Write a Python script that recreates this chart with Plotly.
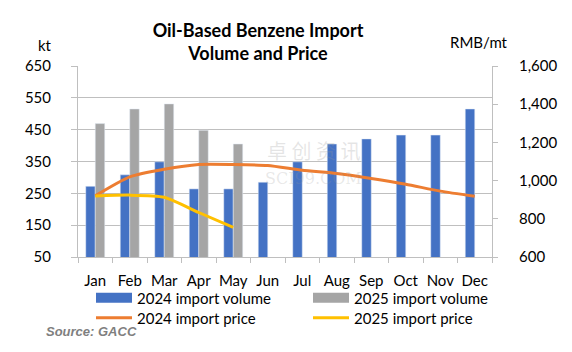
import plotly.graph_objects as go

months = ["Jan", "Feb", "Mar", "Apr", "May", "Jun", "Jul", "Aug", "Sep", "Oct", "Nov", "Dec"]
vol_2024 = [272, 308, 349, 264, 264, 285, 349, 405, 421, 433, 433, 515]
vol_2025 = [469, 515, 531, 448, 405, None, None, None, None, None, None, None]
price_2024 = [920, 1019, 1059, 1084, 1084, 1079, 1054, 1037, 1011, 981, 945, 918]
price_2025 = [920, 924, 913, 833, 755]

BLUE = "#4472C4"
GRAY = "#A5A5A5"
ORANGE = "#ED7D31"
YELLOW = "#FFC000"
FONT = "Lato"
W, H = 572, 352
L, R, T, B = 78, 80, 66, 95
PW, PH = W - L - R, H - T - B


def px(xpix):
    return (xpix - L) / PW


def py(ypix):
    return (H - B - ypix) / PH


fig = go.Figure()
fig.add_trace(go.Bar(x=months, y=vol_2024, marker_color=BLUE, showlegend=False, name="2024 import volume"))
fig.add_trace(go.Bar(x=months, y=vol_2025, marker_color=GRAY, showlegend=False, name="2025 import volume"))
fig.add_trace(go.Scatter(x=months, y=price_2024, yaxis="y2", mode="lines",
                         line=dict(color=ORANGE, width=3, shape="spline", smoothing=0.6),
                         showlegend=False, name="2024 import price"))
fig.add_trace(go.Scatter(x=months[:len(price_2025)], y=price_2025, yaxis="y2", mode="lines",
                         line=dict(color=YELLOW, width=3, shape="spline", smoothing=0.6),
                         showlegend=False, name="2025 import price"))

# legend entries: one legend per entry, placed in a 2x2 grid
legend_items = [("2024 import volume", BLUE, 10, "legend", 91, 298),
                ("2025 import volume", GRAY, 10, "legend2", 308, 298),
                ("2024 import price", ORANGE, 3, "legend3", 91, 318),
                ("2025 import price", YELLOW, 3, "legend4", 308, 318)]
legend_layout = {}
for name, color, width, lg, lx, ly in legend_items:
    fig.add_trace(go.Scatter(x=[months[0]], y=[None], yaxis="y2", mode="lines", name=name,
                             line=dict(color=color, width=width), legend=lg, hoverinfo="skip"))
    legend_layout[lg] = dict(orientation="v", x=lx / W, xref="container", xanchor="left",
                             y=1 - ly / H, yref="container", yanchor="middle",
                             font=dict(size=15), itemwidth=36, bgcolor="rgba(0,0,0,0)")

axis_col = "#BFBFBF"
fig.update_layout(
    width=W, height=H,
    margin=dict(l=L, r=R, t=T, b=B, autoexpand=False),
    paper_bgcolor="white", plot_bgcolor="white",
    font=dict(family=FONT, size=15, color="#000000"),
    barmode="group", bargap=0.45, bargroupgap=0,
    title=dict(text="<b>Oil-Based Benzene Import<br>Volume and Price</b>",
               x=258 / W, xref="container", xanchor="center",
               y=1 - 37 / H, yref="container", yanchor="middle",
               font=dict(family=FONT, size=18, color="#000000")),
    xaxis=dict(type="category", categoryorder="array", categoryarray=months,
               tickson="boundaries", ticks="outside", ticklen=5,
               tickcolor=axis_col, showline=True, linecolor=axis_col, linewidth=1,
               showgrid=False, tickfont=dict(size=15), ticklabelstandoff=10, tickangle=0,
               automargin=False),
    yaxis=dict(range=[50, 650], tick0=50, dtick=100, showgrid=True, gridcolor=axis_col,
               showline=True, linecolor=axis_col, ticks="outside", ticklen=6, tickcolor=axis_col,
               tickfont=dict(size=15), ticklabelstandoff=17, zeroline=False, automargin=False),
    yaxis2=dict(range=[600, 1600], dtick=200, tickformat=",", overlaying="y", side="right",
                showgrid=False, showline=True, linecolor=axis_col, ticks="outside", ticklen=5,
                tickcolor=axis_col, tickfont=dict(size=15), ticklabelstandoff=18, zeroline=False,
                automargin=False),
    annotations=[
        dict(text="kt", x=px(45), y=py(45), xref="paper", yref="paper", showarrow=False,
             xanchor="center", yanchor="middle", font=dict(size=15)),
        dict(text="RMB/mt", x=px(479), y=py(42), xref="paper", yref="paper", showarrow=False,
             xanchor="center", yanchor="middle", font=dict(size=15)),
        dict(text="<b><i>Source: GACC</i></b>", x=px(44), y=py(331), xref="paper", yref="paper",
             xanchor="left", yanchor="middle", showarrow=False,
             font=dict(size=13, color="#7F7F7F", family="Liberation Sans")),
        dict(text="卓 创 资 讯", x=px(313), y=py(150), xref="paper", yref="paper", showarrow=False,
             xanchor="center", yanchor="middle",
             font=dict(size=20, color="rgba(150,150,150,0.25)", family="Noto Sans CJK SC")),
        dict(text="SCI99.COM", x=px(313), y=py(178), xref="paper", yref="paper", showarrow=False,
             xanchor="center", yanchor="middle",
             font=dict(size=16, color="rgba(150,150,150,0.22)", family="DejaVu Serif")),
    ],
    **legend_layout,
)

fig.write_html("out.html")
